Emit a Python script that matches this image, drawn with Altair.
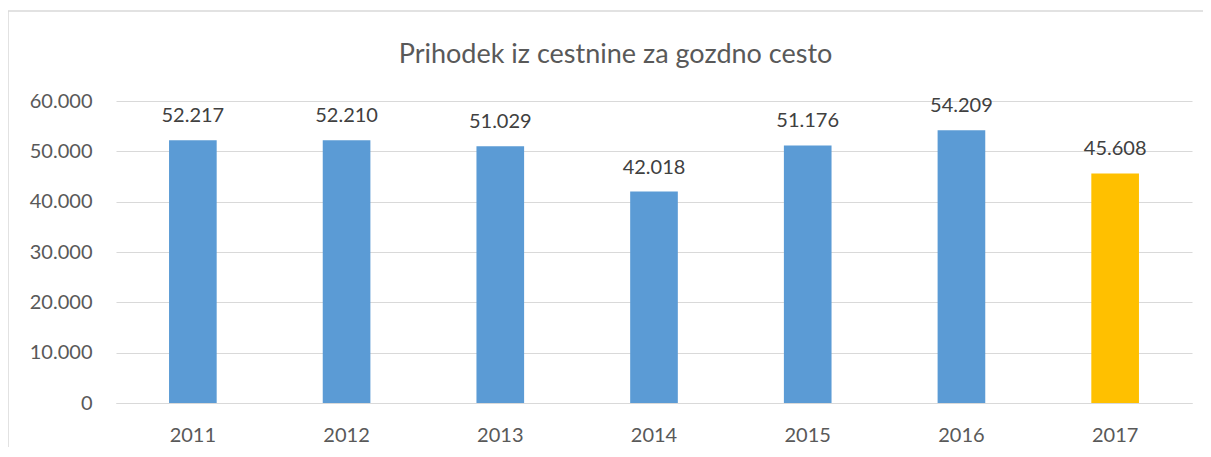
import altair as alt
import pandas as pd

years = ["2011", "2012", "2013", "2014", "2015", "2016", "2017"]
values = [52217, 52210, 51029, 42018, 51176, 54209, 45608]
y_ticks = [0, 10000, 20000, 30000, 40000, 50000, 60000]
title_text = "Prihodek iz cestnine za gozdno cesto"

df = pd.DataFrame({"year": years, "value": values})
one = pd.DataFrame({"k": [0]})

FONT = "Lato"
W, H = 1076, 302

x_enc = alt.X("year:N", sort=years, title=None,
              scale=alt.Scale(paddingInner=0.69, paddingOuter=0.345),
              axis=alt.Axis(labelAngle=0, ticks=False, domain=True, domainColor="#D9D9D9",
                            labelFontSize=20, labelColor="#595959", labelFont=FONT,
                            labelPadding=22, grid=False))
y_enc = alt.Y("value:Q", title=None,
              scale=alt.Scale(domain=[0, 60000], nice=False),
              axis=alt.Axis(values=y_ticks, ticks=False, domain=False, grid=True,
                            gridColor="#D9D9D9", gridWidth=1,
                            labelFontSize=20, labelColor="#595959", labelFont=FONT,
                            labelPadding=24,
                            labelExpr="replace(format(datum.value, ','), ',', '.')"))

border_top = alt.Chart(one).mark_rule(stroke="#D9D9D9", strokeWidth=1.5).encode(
    x=alt.value(-108), x2=alt.value(W + 20), y=alt.value(-90)
)
border_left = alt.Chart(one).mark_rule(stroke="#D9D9D9", strokeWidth=1.5).encode(
    x=alt.value(-108), y=alt.value(-90), y2=alt.value(H + 60)
)

title = alt.Chart(one).mark_text(
    fontSize=27, font=FONT, color="#595959", baseline="alphabetic", align="center"
).encode(
    x=alt.value(499.5), y=alt.value(-38), text=alt.value(title_text)
)

bars = alt.Chart(df).mark_bar().encode(
    x=x_enc, y=y_enc,
    color=alt.condition(alt.datum.year == "2017", alt.value("#FFC000"), alt.value("#5B9BD5")),
)

labels = alt.Chart(df).transform_calculate(
    label="replace(format(datum.value, ','), ',', '.')"
).mark_text(baseline="alphabetic", dy=-18, fontSize=20, font=FONT, color="#404040").encode(
    x=alt.X("year:N", sort=years), y="value:Q", text="label:N"
)

chart = alt.layer(border_top, border_left, title, bars, labels).properties(
    width=W, height=H,
    autosize=alt.AutoSizeParams(type="none"),
    padding={"left": 108, "top": 93, "right": 11, "bottom": 44},
).configure(background="white").configure_view(stroke=None)

chart.save("out.html", embed_options={"renderer": "svg", "actions": False})
